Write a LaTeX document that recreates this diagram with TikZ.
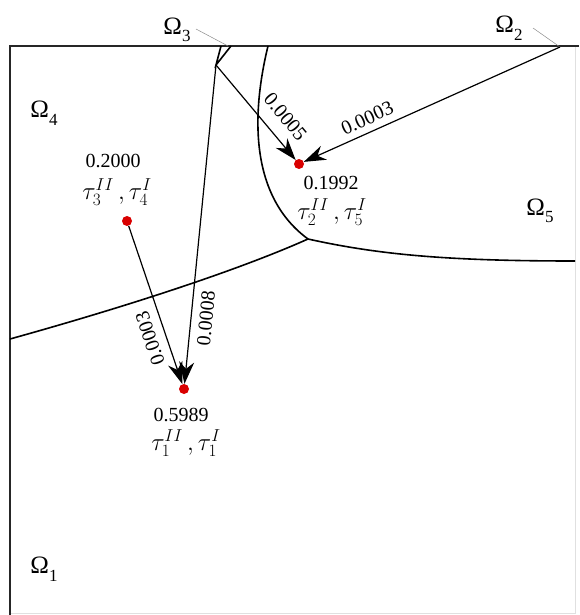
\documentclass[tikz,border=0pt]{standalone}
\usepackage{fontspec}
\setmainfont{Liberation Serif}
\usetikzlibrary{arrows.meta}
\newcommand\OmLab[1]{Ω\raisebox{-0.3em}{\fontsize{17}{17}\selectfont #1}}
\begin{document}
\begin{tikzpicture}[x=1pt,y=-1pt,
  bnd/.style={line width=1.6pt, black},
  frame/.style={line width=1.6pt, black!85},
  faint/.style={line width=1pt, black!12},
  arr/.style={line width=1.2pt, -{Stealth[length=22pt,width=15pt,inset=7pt]}},
  dot/.style={circle, fill=red!85!black, inner sep=0pt, minimum size=10pt},
  lead/.style={black!45, line width=0.5pt},
  omlab/.style={font=\fontsize{25}{28}\selectfont, inner sep=0pt},
  numlab/.style={font=\fontsize{20}{22}\selectfont, inner sep=0pt},
  taulab/.style={font=\fontsize{25}{28}\selectfont, inner sep=0pt},
  arrlab/.style={font=\fontsize{20}{22}\selectfont, sloped, inner sep=2pt}]
\useasboundingbox (0,0) rectangle (579,615);
% frame
\draw[faint] (575,46) -- (575,613) -- (10,613);
\draw[frame] (10,615) -- (10,46) -- (579,46);
% key points
\coordinate (tp) at (308,239);
\coordinate (k) at (216,65);
\coordinate (o2p) at (560,47);
\coordinate (o3p) at (228,46);
\coordinate (kl) at (221,46);
\coordinate (le) at (10,339);
\coordinate (re) at (575,261);
\coordinate (te) at (268,46);
% interfaces
\draw[bnd] (le) .. controls (150,300) and (250,265) .. (tp);
\draw[bnd] (tp) .. controls (380,255) and (450,261) .. (re);
\draw[bnd] (tp) .. controls (252,198) and (250,120) .. (te);
\draw[bnd, line join=miter] (kl) -- (k) -- (231,46);
% dots
\node[dot] (t2) at (299,164) {};
\node[dot] (t3) at (127,221) {};
\node[dot] (t1) at (184,389) {};
% labels of regions
\node[omlab] (om1) at (44,569) {\OmLab{1}};
\node[omlab] (om2) at (509,28) {\OmLab{2}};
\node[omlab] (om3) at (177,30) {\OmLab{3}};
\node[omlab] (om4) at (44,113) {\OmLab{4}};
\node[omlab] (om5) at (540,211) {\OmLab{5}};
\coordinate (l3s) at (196,29);
\coordinate (l2s) at (533,28);
\draw[lead] (l3s) -- (o3p);
\draw[lead] (l2s) -- (o2p);
% arrows
\draw[arr] (k) -- (t2);
\draw[arr] (o2p) -- (t2);
\draw[arr] (t3) -- (t1);
\draw[arr] (k) -- (t1);
% arrow labels
\path (k) -- (t2) node[arrlab, above=11pt, pos=0.68] {0.0005};
\path (t2) -- (o2p) node[arrlab, above=5pt, pos=0.27] {0.0003};
\path (t1) -- (t3) node[arrlab, allow upside down, above=7pt, pos=0.32] {0.0003};
\path (t1) -- (k) node[arrlab, below=6pt, pos=0.21] {0.0008};
% values
\node[numlab] (v3) at (113,161) {0.2000};
\node[taulab] (l3) at (117,192) {$\tau_3^{II}\,,\tau_4^{I}$};
\node[numlab] (v2) at (331,183) {0.1992};
\node[taulab] (l2) at (332,212) {$\tau_2^{II}\,,\tau_5^{I}$};
\node[numlab] (v1) at (181,415) {0.5989};
\node[taulab] (l1) at (186,443) {$\tau_1^{II}\,,\tau_1^{I}$};
\end{tikzpicture}
\end{document}
